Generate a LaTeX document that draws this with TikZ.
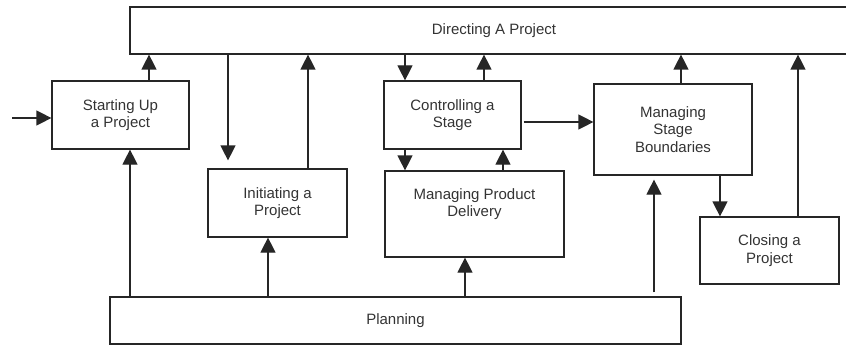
\documentclass[tikz,border=0pt]{standalone}
\usepackage{fontspec}
\setmainfont{Liberation Sans}
\usetikzlibrary{calc,arrows.meta,positioning}
\tikzset{
    >={Triangle[length=15pt,width=15pt]},
    stage/.style={
        rectangle,
        draw=black!85, line width=1.2pt,
        align=center,
        text=black!80,
        inner sep=0pt,
        font=\fontsize{15}{17.5}\selectfont
    },
    flow/.style={draw=black!85, line width=1.2pt, ->},
}
\begin{document}
\begin{tikzpicture}[x=1pt,y=-1pt]
    \useasboundingbox (0,0) rectangle (846,345);
    % the boxes
    \node[stage, minimum width=728pt, minimum height=47pt] (direct) at (494,30.5) {Directing A Project};
    \node[stage, minimum width=137pt, minimum height=68pt] (start) at (120.5,115) {Starting Up\\a Project};
    \node[stage, minimum width=139pt, minimum height=68pt] (init) at (277.5,203) {Initiating a\\Project};
    \node[stage, minimum width=137pt, minimum height=68pt] (ctrl) at (452.5,115) {Controlling a\\Stage};
    \node[stage, minimum width=179pt, minimum height=86pt] (mpd) at (474.5,214) {Managing Product\\Delivery\\ \strut};
    \node[stage, minimum width=158pt, minimum height=91pt] (msb) at (673,129.5) {Managing\\Stage\\Boundaries};
    \node[stage, minimum width=139pt, minimum height=67pt] (close) at (769.5,250.5) {Closing a\\Project};
    \node[stage, minimum width=571pt, minimum height=47pt] (plan) at (395.5,320.5) {Planning};

    % way in
    \coordinate (entry) at (12,118);
    \draw[flow] (entry) -- (entry -| start.west);

    % starting up
    \draw[flow] let \p1 = (start.north), \p2 = (direct.south) in (\x1+28.5pt,\y1) -- (\x1+28.5pt,\y2);
    \draw[flow] let \p1 = (plan.north), \p2 = (start.south) in (\x2+9.5pt,\y1) -- (\x2+9.5pt,\y2);

    % initiating
    \draw[flow, shorten >=8pt] let \p1 = (direct.south), \p2 = (init.north) in (\x2-49.5pt,\y1) -- (\x2-49.5pt,\y2);
    \draw[flow] let \p1 = (init.north), \p2 = (direct.south) in (\x1+30.5pt,\y1) -- (\x1+30.5pt,\y2);
    \draw[flow] let \p1 = (plan.north), \p2 = (init.south) in (\x2-9.5pt,\y1) -- (\x2-9.5pt,\y2);

    % controlling and delivery
    \draw[flow] let \p1 = (direct.south), \p2 = (ctrl.north) in (\x2-47.5pt,\y1) -- (\x2-47.5pt,\y2);
    \draw[flow] let \p1 = (ctrl.north), \p2 = (direct.south) in (\x1+31.5pt,\y1) -- (\x1+31.5pt,\y2);
    \draw[flow] let \p1 = (ctrl.south), \p2 = (mpd.north) in (\x1-47.5pt,\y1) -- (\x1-47.5pt,\y2);
    \draw[flow] let \p1 = (mpd.north), \p2 = (ctrl.south) in (\x1+28.5pt,\y1) -- (\x1+28.5pt,\y2);
    \draw[flow] let \p1 = (plan.north), \p2 = (mpd.south) in (\x2-9.5pt,\y1) -- (\x2-9.5pt,\y2);
    \draw[flow] let \p1 = (ctrl.east), \p2 = (msb.west) in (\x1+2pt,\y1-7pt) -- (\x2,\y1-7pt);

    % stage boundaries and closing
    \draw[flow] let \p1 = (msb.north), \p2 = (direct.south) in (\x1+8pt,\y1) -- (\x1+8pt,\y2);
    \draw[flow] let \p1 = (msb.south), \p2 = (close.north) in (\x1+47pt,\y1) -- (\x1+47pt,\y2);
    \draw[flow, shorten <=4pt, shorten >=4pt] let \p1 = (plan.north), \p2 = (msb.south) in (\x2-19pt,\y1) -- (\x2-19pt,\y2);
    \draw[flow] let \p1 = (close.north), \p2 = (direct.south) in (\x1+28.5pt,\y1) -- (\x1+28.5pt,\y2);
\end{tikzpicture}
\end{document}
